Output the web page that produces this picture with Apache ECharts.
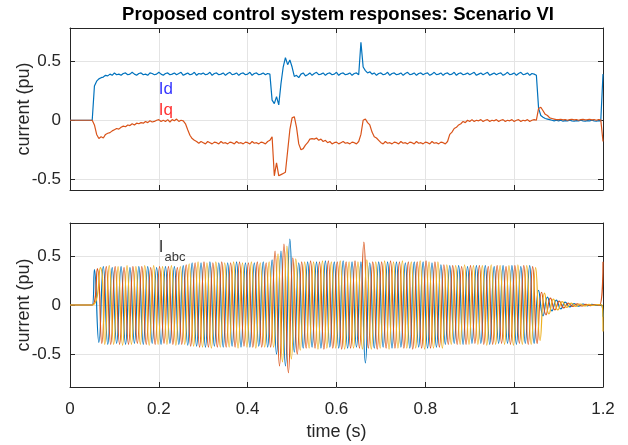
<!DOCTYPE html>
<html>
<head>
<meta charset="utf-8">
<script src="https://cdn.jsdelivr.net/npm/echarts@6/dist/echarts.min.js"></script>
<style>
  html, body { margin: 0; padding: 0; background: #fff; }
  #chart { width: 628px; height: 445px; }
</style>
</head>
<body>
<div id="chart"></div>
<script>
// sample step of the dq currents (s)
var dt = 0.005;

// Id (pu), one row = 0.1 s
var idVals = [
  0, 0, 0, 0, 0, 0, 0, 0, 0, 0, 0, 0.29, 0.33, 0.35, 0.36, 0.365, 0.38, 0.375, 0.39, 0.38,
  0.40, 0.385, 0.39, 0.38, 0.395, 0.40, 0.385, 0.39, 0.405, 0.39, 0.38, 0.395, 0.40, 0.385, 0.39, 0.38, 0.40, 0.395, 0.385, 0.39,
  0.405, 0.39, 0.38, 0.395, 0.40, 0.385, 0.39, 0.40, 0.385, 0.395, 0.405, 0.38, 0.39, 0.40, 0.385, 0.39, 0.405, 0.38, 0.395, 0.39,
  0.40, 0.385, 0.39, 0.405, 0.38, 0.395, 0.40, 0.385, 0.39, 0.40, 0.38, 0.395, 0.405, 0.385, 0.39, 0.40, 0.38, 0.395, 0.40, 0.385,
  0.39, 0.405, 0.38, 0.395, 0.40, 0.385, 0.39, 0.40, 0.385, 0.395, 0.39, 0.17, 0.14, 0.20, 0.13, 0.31, 0.45, 0.53, 0.47, 0.51,
  0.45, 0.37, 0.38, 0.36, 0.39, 0.40, 0.375, 0.385, 0.40, 0.38, 0.395, 0.405, 0.385, 0.39, 0.40, 0.38, 0.395, 0.40, 0.385, 0.39,
  0.405, 0.38, 0.395, 0.40, 0.385, 0.39, 0.40, 0.38, 0.395, 0.40, 0.385, 0.66, 0.45, 0.42, 0.40, 0.41, 0.39, 0.40, 0.38, 0.395,
  0.40, 0.385, 0.39, 0.405, 0.38, 0.395, 0.40, 0.385, 0.39, 0.40, 0.38, 0.395, 0.405, 0.385, 0.39, 0.40, 0.38, 0.395, 0.40, 0.385,
  0.395, 0.40, 0.38, 0.39, 0.405, 0.385, 0.39, 0.40, 0.38, 0.395, 0.40, 0.385, 0.39, 0.405, 0.38, 0.395, 0.40, 0.385, 0.39, 0.40,
  0.385, 0.395, 0.405, 0.38, 0.39, 0.40, 0.385, 0.395, 0.405, 0.38, 0.39, 0.40, 0.385, 0.395, 0.40, 0.38, 0.39, 0.405, 0.385, 0.39,
  0.40, 0.38, 0.395, 0.405, 0.385, 0.39, 0.40, 0.38, 0.395, 0.39, 0.38, 0.10, 0.04, 0.025, 0.015, 0.01, 0.005, 0, -0.005, 0,
  -0.005, 0, -0.008, -0.003, -0.006, 0, -0.005, -0.008, -0.003, -0.006, 0, -0.005, -0.008, -0.003, -0.006, 0, -0.005, -0.007, -0.003, -0.005,
  0.39
];

// Iq (pu), one row = 0.1 s
var iqVals = [
  0, 0, 0, 0, 0, 0, 0, 0, 0, 0, 0, -0.04, -0.12, -0.155, -0.14, -0.15, -0.12, -0.11, -0.105, -0.09,
  -0.08, -0.07, -0.075, -0.06, -0.05, -0.055, -0.04, -0.045, -0.03, -0.04, -0.025, -0.03, -0.02, -0.025, -0.01, -0.02, -0.005, -0.015, -0.01, 0,
  0.005, -0.01, 0, -0.01, 0.005, -0.015, 0.005, -0.005, 0.01, -0.01, 0, -0.005, -0.03, -0.08, -0.127, -0.155, -0.17, -0.18, -0.195, -0.18,
  -0.19, -0.2, -0.18, -0.19, -0.2, -0.185, -0.19, -0.2, -0.18, -0.195, -0.19, -0.2, -0.185, -0.19, -0.2, -0.18, -0.195, -0.19, -0.2, -0.185,
  -0.19, -0.2, -0.18, -0.195, -0.19, -0.2, -0.185, -0.19, -0.2, -0.18, -0.17, -0.14, -0.47, -0.36, -0.47, -0.46, -0.45, -0.44, -0.26, -0.08,
  0.02, 0.03, -0.06, -0.2, -0.25, -0.24, -0.21, -0.19, -0.16, -0.155, -0.16, -0.15, -0.17, -0.16, -0.18, -0.17, -0.19, -0.18, -0.2, -0.19,
  -0.185, -0.2, -0.19, -0.18, -0.195, -0.19, -0.2, -0.185, -0.19, -0.2, -0.18, -0.12, 0.0, 0.01, -0.02, -0.04, -0.1, -0.14, -0.15, -0.17,
  -0.19, -0.2, -0.18, -0.195, -0.19, -0.2, -0.185, -0.19, -0.2, -0.18, -0.195, -0.19, -0.2, -0.185, -0.19, -0.2, -0.18, -0.195, -0.19, -0.2,
  -0.185, -0.19, -0.2, -0.18, -0.195, -0.19, -0.2, -0.185, -0.19, -0.2, -0.18, -0.12, -0.1, -0.07, -0.06, -0.04, -0.03, -0.01, -0.02, 0,
  -0.01, 0.005, -0.01, 0, -0.005, 0.005, -0.01, 0, 0.005, -0.01, 0, -0.005, 0.005, -0.01, 0, 0.005, -0.01, 0, -0.005, 0.005,
  -0.01, 0, 0.005, -0.01, 0, -0.005, 0.005, -0.01, 0, 0.005, 0, 0.1, 0.11, 0.08, 0.05, 0.04, 0.02, 0.015, 0.01, 0.005,
  0.005, 0.008, 0.003, 0.006, 0, 0.005, 0.008, 0.003, 0.006, 0, 0.005, 0.007, 0.003, 0.005, 0.008, 0.003, 0.006, 0, 0.005, 0.004,
  -0.18
];

// phase current extremes (pu): +,- per 50 Hz cycle from 0.05 s, one row = 10 cycles, then decay
var phaseA = [
  0.36, -0.38, 0.39, -0.40, 0.38, -0.39, 0.39, -0.40, 0.38, -0.39, 0.39, -0.40, 0.39, -0.39, 0.38, -0.40, 0.39, -0.39, 0.39, -0.40,
  0.40, -0.41, 0.43, -0.42, 0.43, -0.43, 0.44, -0.42, 0.43, -0.43, 0.43, -0.42, 0.44, -0.43, 0.43, -0.43, 0.43, -0.42, 0.44, -0.43,
  0.46, -0.50, 0.55, -0.62, 0.67, -0.48, 0.43, -0.44, 0.44, -0.43, 0.44, -0.44, 0.45, -0.43, 0.44, -0.44, 0.45, -0.44, 0.44, -0.43,
  0.44, -0.59, 0.43, -0.44, 0.44, -0.43, 0.44, -0.44, 0.44, -0.43, 0.43, -0.44, 0.44, -0.43, 0.44, -0.44, 0.43, -0.43, 0.41, -0.40,
  0.40, -0.39, 0.40, -0.40, 0.39, -0.39, 0.40, -0.39, 0.40, -0.40, 0.39, -0.39, 0.40, -0.39, 0.40, -0.40, 0.39, -0.39, 0.40, -0.39,
  0.15, -0.11, 0.08, -0.06, 0.05, -0.04, 0.03, -0.02, 0.015, -0.012, 0.01, -0.008, 0.006, -0.005, 0.004, -0.004
];
var phaseB = [
  0.37, -0.39, 0.39, -0.40, 0.39, -0.40, 0.38, -0.40, 0.39, -0.39, 0.39, -0.40, 0.38, -0.40, 0.39, -0.39, 0.39, -0.40, 0.38, -0.40,
  0.41, -0.42, 0.43, -0.43, 0.44, -0.43, 0.43, -0.43, 0.44, -0.43, 0.43, -0.43, 0.44, -0.42, 0.43, -0.43, 0.44, -0.43, 0.43, -0.43,
  0.55, -0.62, 0.62, -0.69, 0.48, -0.50, 0.44, -0.44, 0.45, -0.44, 0.44, -0.45, 0.45, -0.44, 0.44, -0.45, 0.44, -0.44, 0.45, -0.44,
  0.64, -0.44, 0.44, -0.45, 0.44, -0.44, 0.45, -0.44, 0.44, -0.44, 0.44, -0.45, 0.44, -0.44, 0.45, -0.44, 0.44, -0.43, 0.41, -0.40,
  0.40, -0.40, 0.39, -0.40, 0.40, -0.39, 0.40, -0.40, 0.39, -0.40, 0.40, -0.39, 0.39, -0.40, 0.40, -0.39, 0.40, -0.40, 0.39, -0.39,
  0.13, -0.10, 0.07, -0.05, 0.04, -0.03, 0.02, -0.015, 0.012, -0.01, 0.006, -0.006, 0.005, -0.004, 0.003
];
var phaseC = [
  0.38, -0.40, 0.40, -0.40, 0.39, -0.41, 0.40, -0.40, 0.39, -0.40, 0.40, -0.41, 0.40, -0.40, 0.39, -0.40, 0.40, -0.41, 0.39, -0.40,
  0.42, -0.42, 0.44, -0.43, 0.43, -0.44, 0.44, -0.43, 0.43, -0.43, 0.44, -0.44, 0.43, -0.43, 0.44, -0.44, 0.43, -0.43, 0.44, -0.43,
  0.52, -0.58, 0.60, -0.55, 0.47, -0.46, 0.44, -0.44, 0.44, -0.45, 0.45, -0.44, 0.44, -0.44, 0.45, -0.45, 0.44, -0.44, 0.44, -0.45,
  0.46, -0.45, 0.44, -0.44, 0.45, -0.45, 0.44, -0.44, 0.45, -0.44, 0.44, -0.44, 0.45, -0.45, 0.44, -0.44, 0.44, -0.44, 0.41, -0.40,
  0.40, -0.40, 0.41, -0.40, 0.40, -0.40, 0.40, -0.41, 0.41, -0.40, 0.40, -0.40, 0.40, -0.41, 0.41, -0.40, 0.40, -0.40, 0.38, -0.36,
  0.12, -0.09, 0.06, -0.05, 0.035, -0.025, 0.02, -0.015, 0.01, -0.01, 0.006, -0.005, 0.004, -0.004
];
// value each phase jumps to at the last sample (1.2 s)
var phaseEnd = [-0.12, 0.44, -0.27];

var topRange = [-0.59, 0.78];
var bottomRange = [-0.835, 0.835];

// text annotations [t, value]
var topNotes = [[0.2, 0.26, 'Id', '#0000ff'], [0.2, 0.08, 'Iq', '#ff0000']];
var bottomNote = [0.2, 0.59];

var font = "'Liberation Sans', Arial, Helvetica, sans-serif";
var axisColor = '#262626';
var gridColor = '#e4e4e4';
var colors = ['#0072BD', '#D95319', '#EDB120'];

function sampled(vals) {
  return vals.map(function (v, i) { return [Math.round(i * dt * 1000) / 1000, v]; });
}

// peaks every half period (0.01 s), phases 1/3 period apart
function wave(peaks, k, endVal) {
  var first = 0.05 + k * 0.02 / 3 + 0.005;
  var pts = [[0, 0], [0.05, 0]];
  peaks.forEach(function (v, j) {
    var t = first + j * 0.01;
    if (t < 1.2) pts.push([t, v]);
  });
  pts.push([1.2, endVal]);
  return pts;
}

function xAxisFor(g, pos, labels) {
  return {
    type: 'value', gridIndex: g, position: pos, min: 0, max: 1.2, interval: 0.2,
    axisLine: { show: true, onZero: false, lineStyle: { color: axisColor, width: 1 } },
    axisTick: { show: true, inside: true, length: 5, lineStyle: { color: axisColor } },
    axisLabel: { show: labels, color: axisColor, fontSize: 17, fontFamily: font, margin: 14 },
    splitLine: { show: pos === 'bottom', lineStyle: { color: gridColor } },
    name: labels ? 'time (s)' : '',
    nameLocation: 'middle', nameGap: 36, nameMoveOverlap: false,
    nameTextStyle: { color: axisColor, fontSize: 18, fontFamily: font }
  };
}

function yAxisFor(g, pos, range, labels) {
  return {
    type: 'value', gridIndex: g, position: pos, min: range[0], max: range[1],
    splitNumber: 3, minInterval: 0.5, maxInterval: 0.5,
    axisLine: { show: true, onZero: false, lineStyle: { color: axisColor, width: 1 } },
    axisTick: { show: true, inside: true, length: 5, lineStyle: { color: axisColor } },
    axisLabel: { show: labels, showMinLabel: false, showMaxLabel: false, color: axisColor, fontSize: 17, fontFamily: font, margin: 9 },
    splitLine: { show: pos === 'left', lineStyle: { color: gridColor } },
    name: labels ? 'current (pu)' : '',
    nameLocation: 'middle', nameGap: 37, nameMoveOverlap: false,
    nameTextStyle: { color: axisColor, fontSize: 18, fontFamily: font }
  };
}

function lineSeries(data, color, xi, yi, smooth) {
  return {
    type: 'line', data: data, xAxisIndex: xi, yAxisIndex: yi,
    showSymbol: false, smooth: smooth, silent: true,
    lineStyle: { color: color, width: 1.2 }
  };
}

var chart = echarts.init(document.getElementById('chart'));

var series = [
  lineSeries(sampled(idVals), colors[0], 0, 0, false),
  lineSeries(sampled(iqVals), colors[1], 0, 0, false),
  lineSeries(wave(phaseA, 0, phaseEnd[0]), colors[0], 2, 2, true),
  lineSeries(wave(phaseB, 1, phaseEnd[1]), colors[1], 2, 2, true),
  lineSeries(wave(phaseC, 2, phaseEnd[2]), colors[2], 2, 2, true)
];

topNotes.forEach(function (n) {
  series.push({
    type: 'scatter', xAxisIndex: 0, yAxisIndex: 0, symbolSize: 0, silent: true,
    data: [[n[0], n[1]]],
    label: { show: true, position: 'right', distance: 0, formatter: n[2], color: n[3], fontSize: 17, fontFamily: font }
  });
});
series.push({
  type: 'scatter', xAxisIndex: 2, yAxisIndex: 2, symbolSize: 0, silent: true,
  data: [bottomNote],
  label: {
    show: true, position: 'right', distance: 0, formatter: '{m|I}{s|abc}',
    rich: {
      m: { fontSize: 17, fontFamily: font, color: '#000' },
      s: { fontSize: 13, fontFamily: font, color: '#000', padding: [20, 0, 0, 1] }
    }
  }
});

chart.setOption({
  animation: false,
  backgroundColor: '#fff',
  graphic: [{
    type: 'text', x: 338, y: 15,
    style: { text: 'Proposed control system responses: Scenario VI', align: 'center', verticalAlign: 'middle',
      font: 'bold 18.5px ' + font, fill: '#000' }
  }],
  grid: [
    { left: 70, right: 25, top: 28, height: 162, outerBoundsMode: 'none' },
    { left: 70, right: 25, top: 223, height: 164, outerBoundsMode: 'none' }
  ],
  xAxis: [
    xAxisFor(0, 'bottom', false), xAxisFor(0, 'top', false),
    xAxisFor(1, 'bottom', true), xAxisFor(1, 'top', false)
  ],
  yAxis: [
    yAxisFor(0, 'left', topRange, true), yAxisFor(0, 'right', topRange, false),
    yAxisFor(1, 'left', bottomRange, true), yAxisFor(1, 'right', bottomRange, false)
  ],
  series: series
});
</script>
</body>
</html>
